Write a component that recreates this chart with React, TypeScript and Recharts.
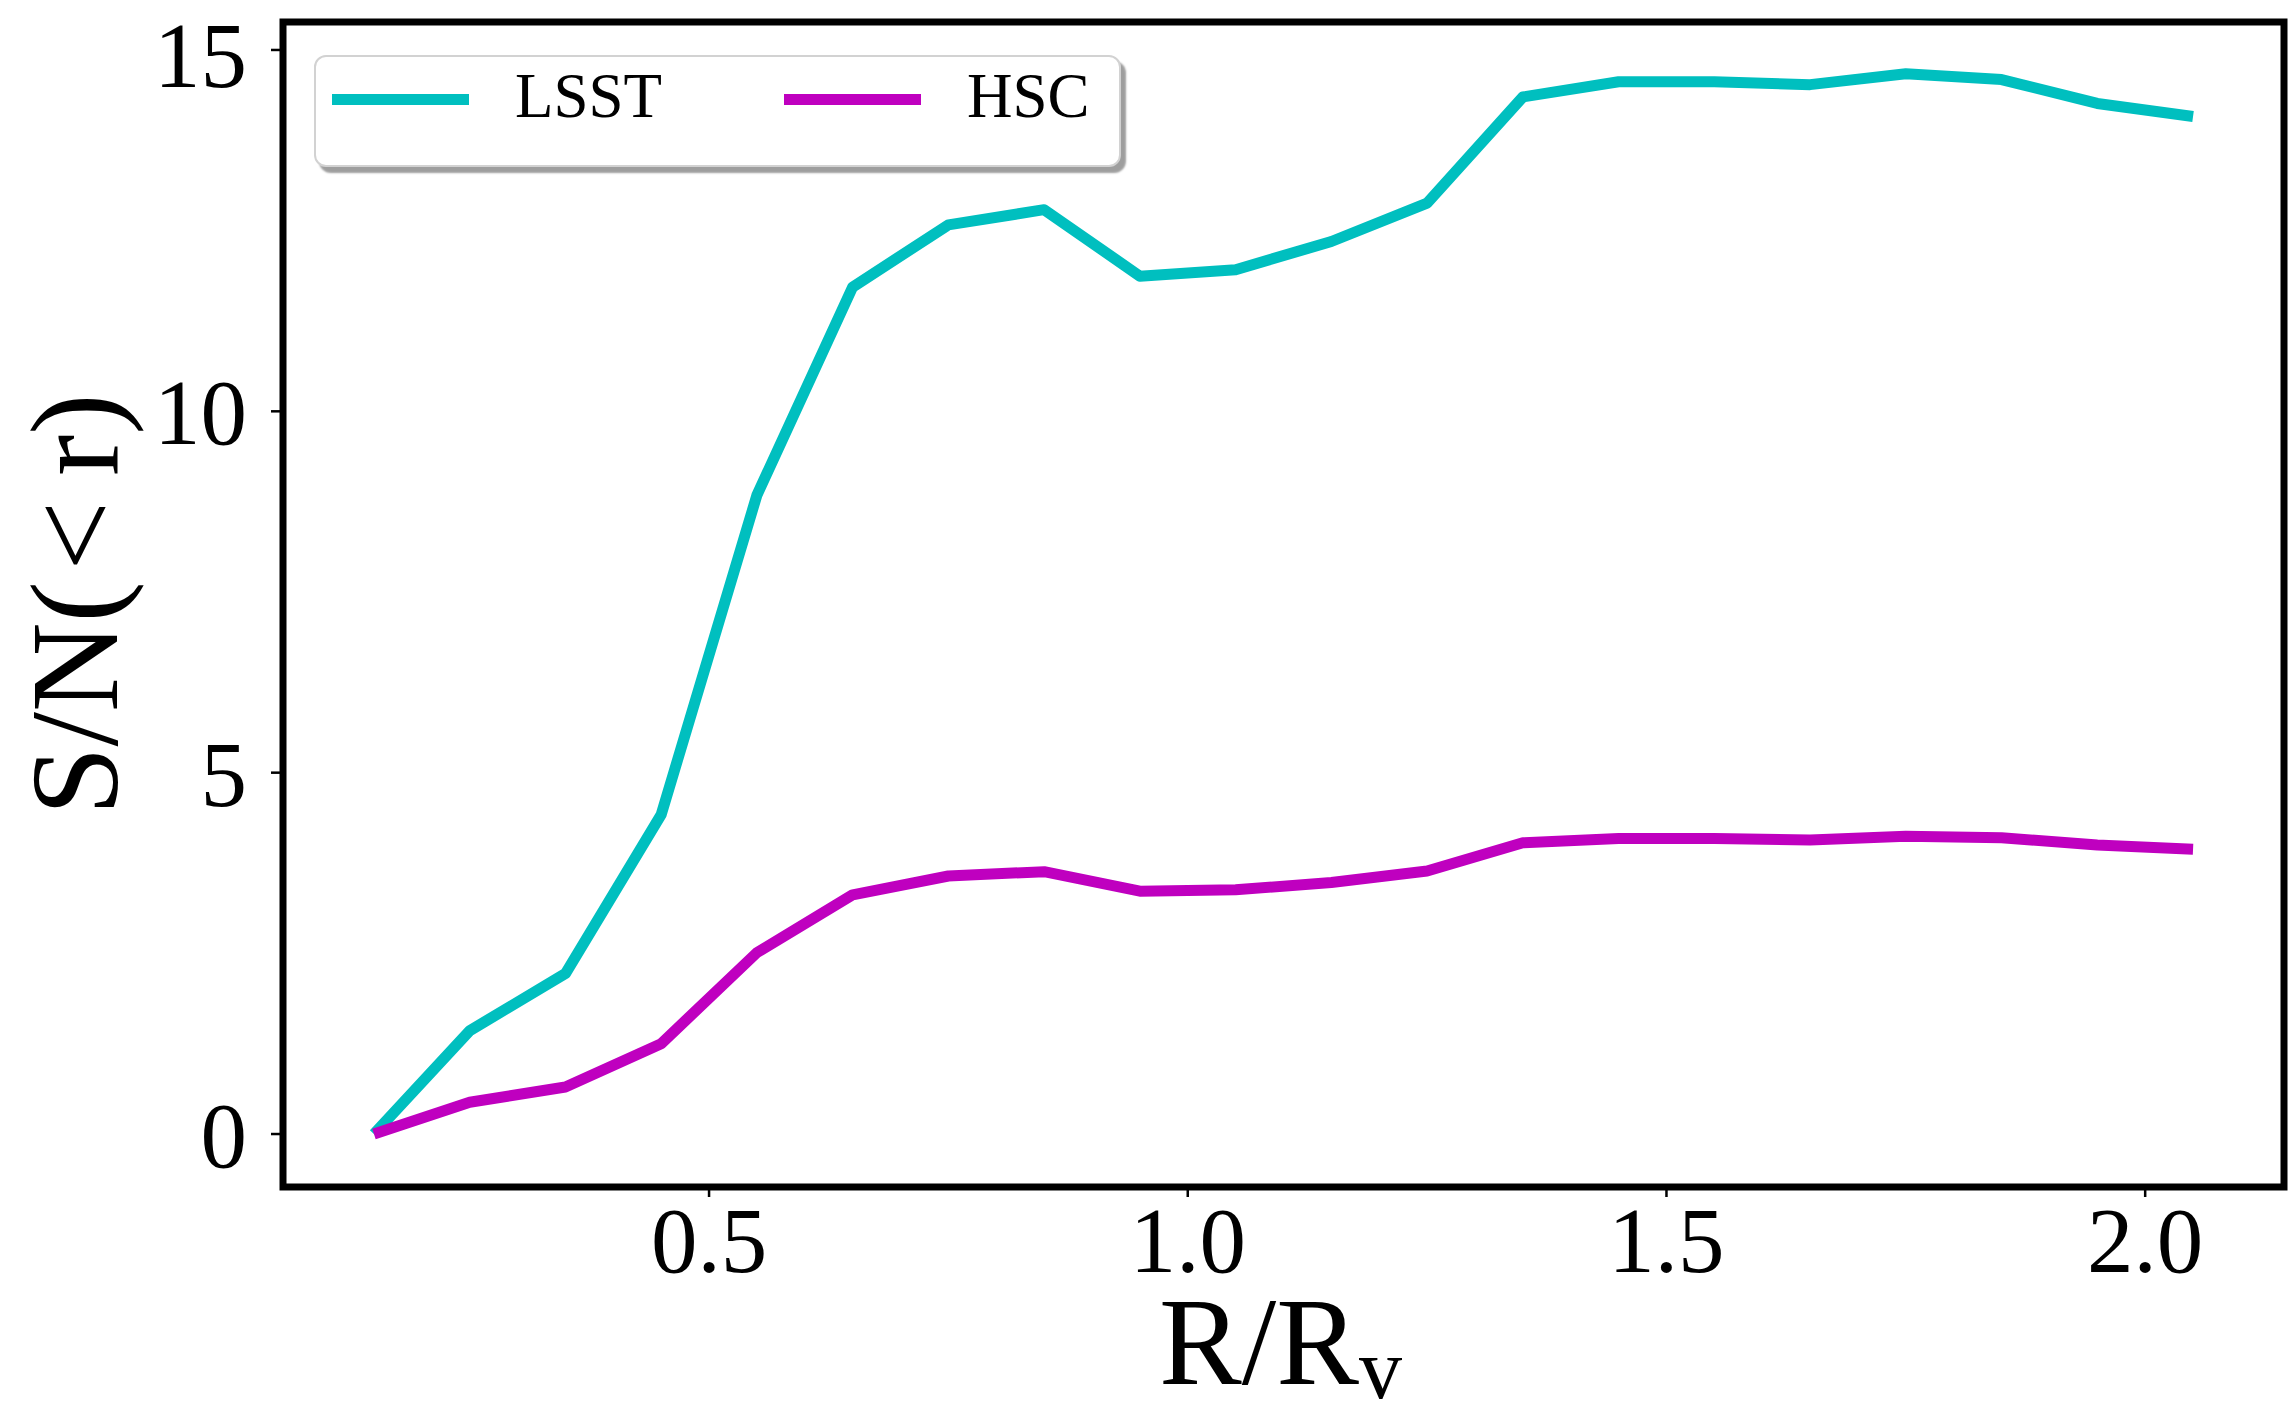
import { LineChart, Line, XAxis, YAxis, ReferenceArea, Legend, Label } from 'recharts'

const W = 2291, H = 1415
const SERIF = "'Liberation Serif', 'Times New Roman', Times, serif"
const CYAN = '#00bfbf', MAGENTA = '#bf00bf'

// R/Rv bin centres
const R = [0.15, 0.25, 0.35, 0.45, 0.55, 0.65, 0.75, 0.85, 0.95, 1.05,
  1.15, 1.25, 1.35, 1.45, 1.55, 1.65, 1.75, 1.85, 1.95, 2.05]
// cumulative S/N(<r)
const LSST = [0, 1.43, 2.22, 4.42, 8.84, 11.72, 12.58, 12.79, 11.87, 11.96,
  12.35, 12.88, 14.35, 14.56, 14.56, 14.52, 14.67, 14.59, 14.26, 14.08]
const HSC = [0, 0.44, 0.65, 1.25, 2.51, 3.31, 3.57, 3.63, 3.36, 3.38,
  3.48, 3.64, 4.03, 4.09, 4.09, 4.07, 4.12, 4.1, 4.0, 3.94]
const NAMES = ['LSST', 'HSC']

const X_TICKS = [0.5, 1.0, 1.5, 2.0]
const Y_TICKS = [0, 5, 10, 15]
const X_DOMAIN: [number, number] = [0.055, 2.145]
const Y_DOMAIN: [number, number] = [-0.733, 15.387]

const rows = R.map((r, i) => ({ r, lsst: LSST[i], hsc: HSC[i] }))

// plot box: left 283, top 22, right 2284, bottom 1187
const YW = 200, XH = 200
const MARGIN = { top: 22, right: W - 2284, left: 283 - YW, bottom: H - 1187 - XH }

function LegendBox({ payload }: any) {
  // keep plotting order (recharts sorts by name otherwise)
  const items = [...(payload || [])].sort((a: any, b: any) => NAMES.indexOf(a.value) - NAMES.indexOf(b.value))
  const offs = [0, 452]
  return (
    <div style={{
      position: 'relative', width: 807, height: 112, boxSizing: 'border-box',
      background: '#fff', border: '2.5px solid #d2d2d2', borderRadius: 12,
      boxShadow: '5px 6px 2px rgba(0,0,0,0.38)', fontFamily: SERIF,
    }}>
      {items.map((p: any, i: number) => (
        <div key={p.value}>
          <div style={{
            position: 'absolute', left: 16 + offs[i], top: 37, width: 137, height: 11,
            background: p.color,
          }} />
          <div style={{
            position: 'absolute', left: 199 + offs[i], top: 3, fontSize: 63,
            lineHeight: '72px', color: '#000',
          }}>{p.value}</div>
        </div>
      ))}
    </div>
  )
}

export default function App() {
  const tickStyle = { fontSize: 93, fill: '#000', fontFamily: SERIF }
  return (
    <div style={{ position: 'absolute', left: 0, top: 0, background: '#fff' }}>
      <LineChart width={W} height={H} data={rows} margin={MARGIN}>
        <XAxis
          type="number" dataKey="r" domain={X_DOMAIN} allowDataOverflow
          ticks={X_TICKS} tickFormatter={(v: number) => v.toFixed(1)}
          height={XH} axisLine={false} tickSize={10} tickMargin={9}
          tickLine={{ stroke: '#000', strokeWidth: 2.5 }} tick={tickStyle}
        >
          <Label content={(props: any) => {
            const vb = props.viewBox
            return (
              <text x={vb.x + vb.width / 2 - 3} y={vb.y + 197} textAnchor="middle"
                fontFamily={SERIF} fontSize={124} fill="#000">
                R/R<tspan fontSize={86} dy={14}>v</tspan>
              </text>
            )
          }} />
        </XAxis>
        <YAxis
          type="number" domain={Y_DOMAIN} allowDataOverflow ticks={Y_TICKS}
          width={YW} axisLine={false} tickSize={12} tickMargin={24}
          tickLine={{ stroke: '#000', strokeWidth: 2.5 }} tick={tickStyle}
        >
          <Label content={(props: any) => {
            const vb = props.viewBox
            const cx = vb.x + 34, cy = vb.y + vb.height / 2
            return (
              <text x={cx} y={cy} transform={`rotate(-90, ${cx}, ${cy})`} textAnchor="middle"
                fontFamily={SERIF} fontSize={124} fill="#000">
                {'S/N(\u200a<\u2009r)'}
              </text>
            )
          }} />
        </YAxis>
        <ReferenceArea
          x1={X_DOMAIN[0]} x2={X_DOMAIN[1]} y1={Y_DOMAIN[0]} y2={Y_DOMAIN[1]}
          fill="none" stroke="#000" strokeWidth={7} strokeLinejoin="miter"
          ifOverflow="visible"
        />
        <Line type="linear" dataKey="lsst" name="LSST" stroke={CYAN} strokeWidth={11}
          strokeLinejoin="round" dot={false} activeDot={false} isAnimationActive={false} />
        <Line type="linear" dataKey="hsc" name="HSC" stroke={MAGENTA} strokeWidth={11}
          strokeLinejoin="round" dot={false} activeDot={false} isAnimationActive={false} />
        <Legend
          layout="horizontal" verticalAlign="middle" align="center"
          content={<LegendBox />}
          wrapperStyle={{ left: 314, top: 55, width: 807, height: 112 }}
        />
      </LineChart>
    </div>
  )
}
